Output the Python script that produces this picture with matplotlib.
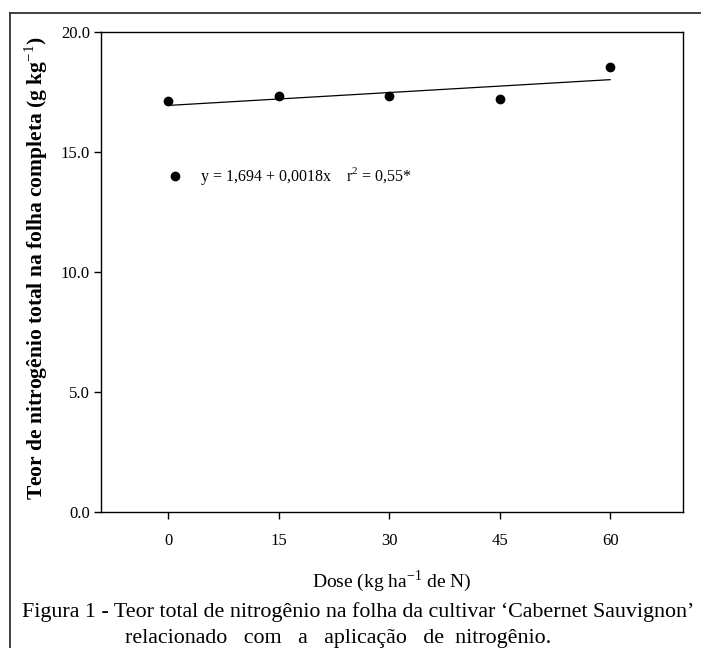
import matplotlib
matplotlib.use("Agg")
import matplotlib.pyplot as plt
from matplotlib.lines import Line2D
import numpy as np

plt.rcParams['font.family'] = ['Liberation Serif', 'DejaVu Serif']
plt.rcParams['mathtext.fontset'] = 'custom'
plt.rcParams['mathtext.rm'] = 'Liberation Serif'
plt.rcParams['mathtext.bf'] = 'Liberation Serif:bold'

# data
dose = [0, 15, 30, 45, 60]
teor_n = [17.14, 17.32, 17.32, 17.22, 18.54]
fit_a = 16.94      # intercept of the drawn line
fit_b = 0.0179     # slope of the drawn line
xticks = [0, 15, 30, 45, 60]
yticks = [0.0, 5.0, 10.0, 15.0, 20.0]

W, H = 701, 648
fig = plt.figure(figsize=(W / 100, H / 100), dpi=100)
ax = fig.add_axes([101 / W, 1 - 512 / H, (683 - 101) / W, (512 - 32) / H])

ax.plot(dose, teor_n, 'o', color='black', ms=6)
xf = np.array([dose[0], dose[-1]])
ax.plot(xf, fit_a + fit_b * xf, color='black', lw=0.9)

ax.set_xlim(-9.1, 69.9)
ax.set_ylim(0, 20)
ax.set_xticks(xticks)
ax.set_yticks(yticks)
ax.set_yticklabels(["%.1f" % v for v in yticks])
ax.tick_params(direction='out', length=5, width=1, labelsize=12)
ax.tick_params(axis='x', pad=10)
ax.tick_params(axis='y', pad=3)
for s in ax.spines.values():
    s.set_linewidth(1.0)

# legend-like annotation
ax.plot([0.95], [14.0], 'o', color='black', ms=6)
ax.text(4.3, 14.0, r"y = 1,694 + 0,0018x    r$^2$ = 0,55*", fontsize=11.5,
        va='center', ha='left')

fig.text(36 / W, 1 - 268 / H,
         r"Teor de nitrogênio total na folha completa (g kg$^{-1}$)",
         fontsize=15.5, fontweight='bold', rotation=90,
         ha='center', va='center')
fig.text(392 / W, 1 - 581 / H, r"Dose (kg ha$^{-1}$ de N)", fontsize=14,
         ha='center', va='center')

# caption
fig.text(22 / W, 1 - 612 / H,
         "Figura 1 - Teor total de nitrogênio na folha da cultivar \u2018Cabernet Sauvignon\u2019",
         fontsize=15.8, ha='left', va='center')
fig.text(125 / W, 1 - 638 / H,
         "relacionado   com   a   aplicação   de  nitrogênio.",
         fontsize=15.8, ha='left', va='center')

# outer frame (top and left edges)
fig.add_artist(Line2D([10 / W, 1.0], [1 - 13 / H, 1 - 13 / H],
                      transform=fig.transFigure, color='#333333', lw=1.3))
fig.add_artist(Line2D([10 / W, 10 / W], [1 - 13 / H, 0.0],
                      transform=fig.transFigure, color='#333333', lw=1.3))

fig.savefig("out.png", dpi=100)
